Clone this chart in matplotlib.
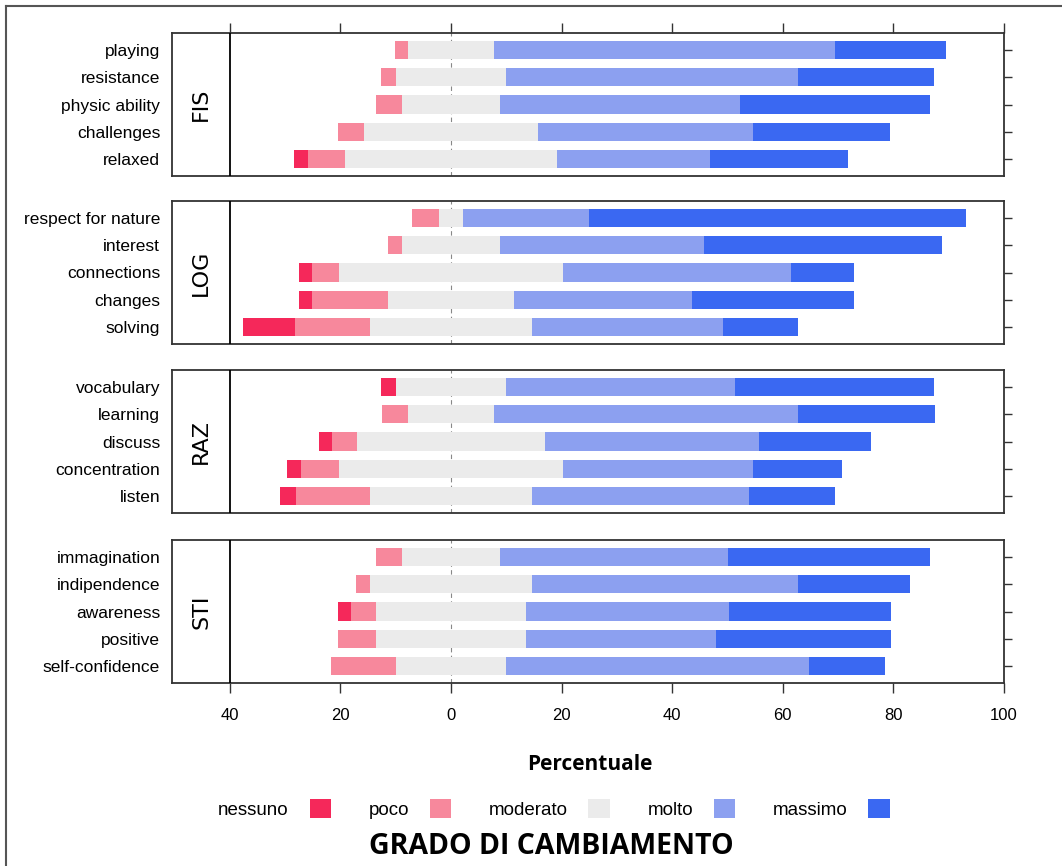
import numpy as np
import matplotlib.pyplot as plt
from matplotlib.patches import Patch
from matplotlib.lines import Line2D

plt.rcParams['font.family'] = ['Liberation Sans', 'DejaVu Sans']

# Response levels and colours
levels = ['nessuno', 'poco', 'moderato', 'molto', 'massimo']
colors = ['#F5285A', '#F7889C', '#EBEBEB', '#8CA0F0', '#3A68F2']

# Percentages (each row sums to ~100)
fis_items = ['playing', 'resistance', 'physic ability', 'challenges', 'relaxed']
fis_nessuno = [0, 0, 0, 0, 2.6]
fis_poco = [2.4, 2.6, 4.8, 4.7, 6.6]
fis_moderato = [15.6, 20.0, 17.7, 31.5, 38.4]
fis_molto = [61.6, 52.8, 43.5, 38.8, 27.6]
fis_massimo = [20.1, 24.6, 34.2, 24.8, 25.0]

log_items = ['respect for nature', 'interest', 'connections', 'changes', 'solving']
log_nessuno = [0, 0, 2.3, 2.3, 9.4]
log_poco = [5.0, 2.5, 5.0, 13.8, 13.6]
log_moderato = [4.2, 17.8, 40.4, 22.8, 29.2]
log_molto = [22.9, 36.9, 41.2, 32.1, 34.6]
log_massimo = [68.1, 43.0, 11.4, 29.3, 13.6]

raz_items = ['vocabulary', 'learning', 'discuss', 'concentration', 'listen']
raz_nessuno = [2.6, 0, 2.5, 2.4, 2.8]
raz_poco = [0, 4.7, 4.4, 7.0, 13.5]
raz_moderato = [20.0, 15.7, 34.1, 40.4, 29.2]
raz_molto = [41.3, 54.9, 38.6, 34.4, 39.2]
raz_massimo = [36.1, 24.7, 20.3, 16.1, 15.7]

sti_items = ['immagination', 'indipendence', 'awareness', 'positive', 'self-confidence']
sti_nessuno = [0, 0, 2.4, 0, 0]
sti_poco = [4.8, 2.5, 4.5, 6.9, 11.7]
sti_moderato = [17.7, 29.2, 27.0, 27.0, 20.0]
sti_molto = [41.3, 48.2, 36.7, 34.5, 54.7]
sti_massimo = [36.4, 20.2, 29.3, 31.5, 13.8]

panels = [
    ('FIS', fis_items, [fis_nessuno, fis_poco, fis_moderato, fis_molto, fis_massimo]),
    ('LOG', log_items, [log_nessuno, log_poco, log_moderato, log_molto, log_massimo]),
    ('RAZ', raz_items, [raz_nessuno, raz_poco, raz_moderato, raz_molto, raz_massimo]),
    ('STI', sti_items, [sti_nessuno, sti_poco, sti_moderato, sti_molto, sti_massimo]),
]

W, H = 1062, 866
fig = plt.figure(figsize=(W / 100, H / 100), dpi=100)

# panel tops / bottoms in pixels
tops = [33, 201, 370, 540]
panel_h = 143
x0, x1 = 172, 1004
frame_col = '#333333'

for i, (name, items, vals) in enumerate(panels):
    ax = fig.add_axes([x0 / W, 1 - (tops[i] + panel_h) / H, (x1 - x0) / W, panel_h / H])
    vals = np.array(vals, dtype=float)
    y = np.arange(len(items))
    left = -(vals[0] + vals[1] + vals[2] / 2)
    for k in range(len(levels)):
        ax.barh(y, vals[k], left=left, height=0.67, color=colors[k], zorder=2)
        left = left + vals[k]

    ax.axvline(0, color='#888888', lw=0.8, ls=(0, (4, 3)), zorder=1)
    ax.axvline(-40, color='black', lw=1.3, zorder=3)
    ax.text(-45.2, 2, name, rotation=90, ha='center', va='center',
            fontsize=16, family='DejaVu Sans')

    ax.set_xlim(-50.45, 100)
    ax.set_ylim(4.62, -0.62)
    ax.set_yticks(y)
    ax.set_yticklabels(items, fontsize=12.5)
    ax.tick_params(axis='y', left=False, right=True, labelleft=True, labelright=False,
                   length=5.5, width=1, pad=3, color=frame_col)

    ticks = [-40, -20, 0, 20, 40, 60, 80, 100]
    ax.set_xticks(ticks)
    ax.set_xticklabels([str(abs(t)) for t in ticks], fontsize=12)
    ax.tick_params(axis='x', top=(i == 0), bottom=(i == 3), labeltop=False,
                   labelbottom=(i == 3), length=7, width=1, pad=11, color=frame_col)

    for s in ax.spines.values():
        s.set_color(frame_col)
        s.set_linewidth(1.3)

fig.text(590 / W, 1 - 765 / H, 'Percentuale', ha='center', va='center',
         fontsize=15, fontweight='bold', family='Open Sans')

handles = [Patch(facecolor=c, edgecolor='none') for c in colors]
fig.legend(handles, levels, loc='center', bbox_to_anchor=(554 / W, 1 - 809 / H),
           ncol=5, frameon=False, markerfirst=False, fontsize=13.5,
           handlelength=1.15, handleheight=1.15, handletextpad=1.1, columnspacing=2.0)

fig.text(551 / W, 1 - 846 / H, 'GRADO DI CAMBIAMENTO', ha='center', va='center',
         fontsize=20.5, fontweight='bold', family='Open Sans')

# outer frame (left and top edges)
fig.add_artist(Line2D([6 / W, 6 / W], [0, 1 - 6 / H], color='#555555', lw=1.5))
fig.add_artist(Line2D([6 / W, 1], [1 - 6 / H, 1 - 6 / H], color='#555555', lw=1.5))

fig.savefig('out.png', dpi=100)
